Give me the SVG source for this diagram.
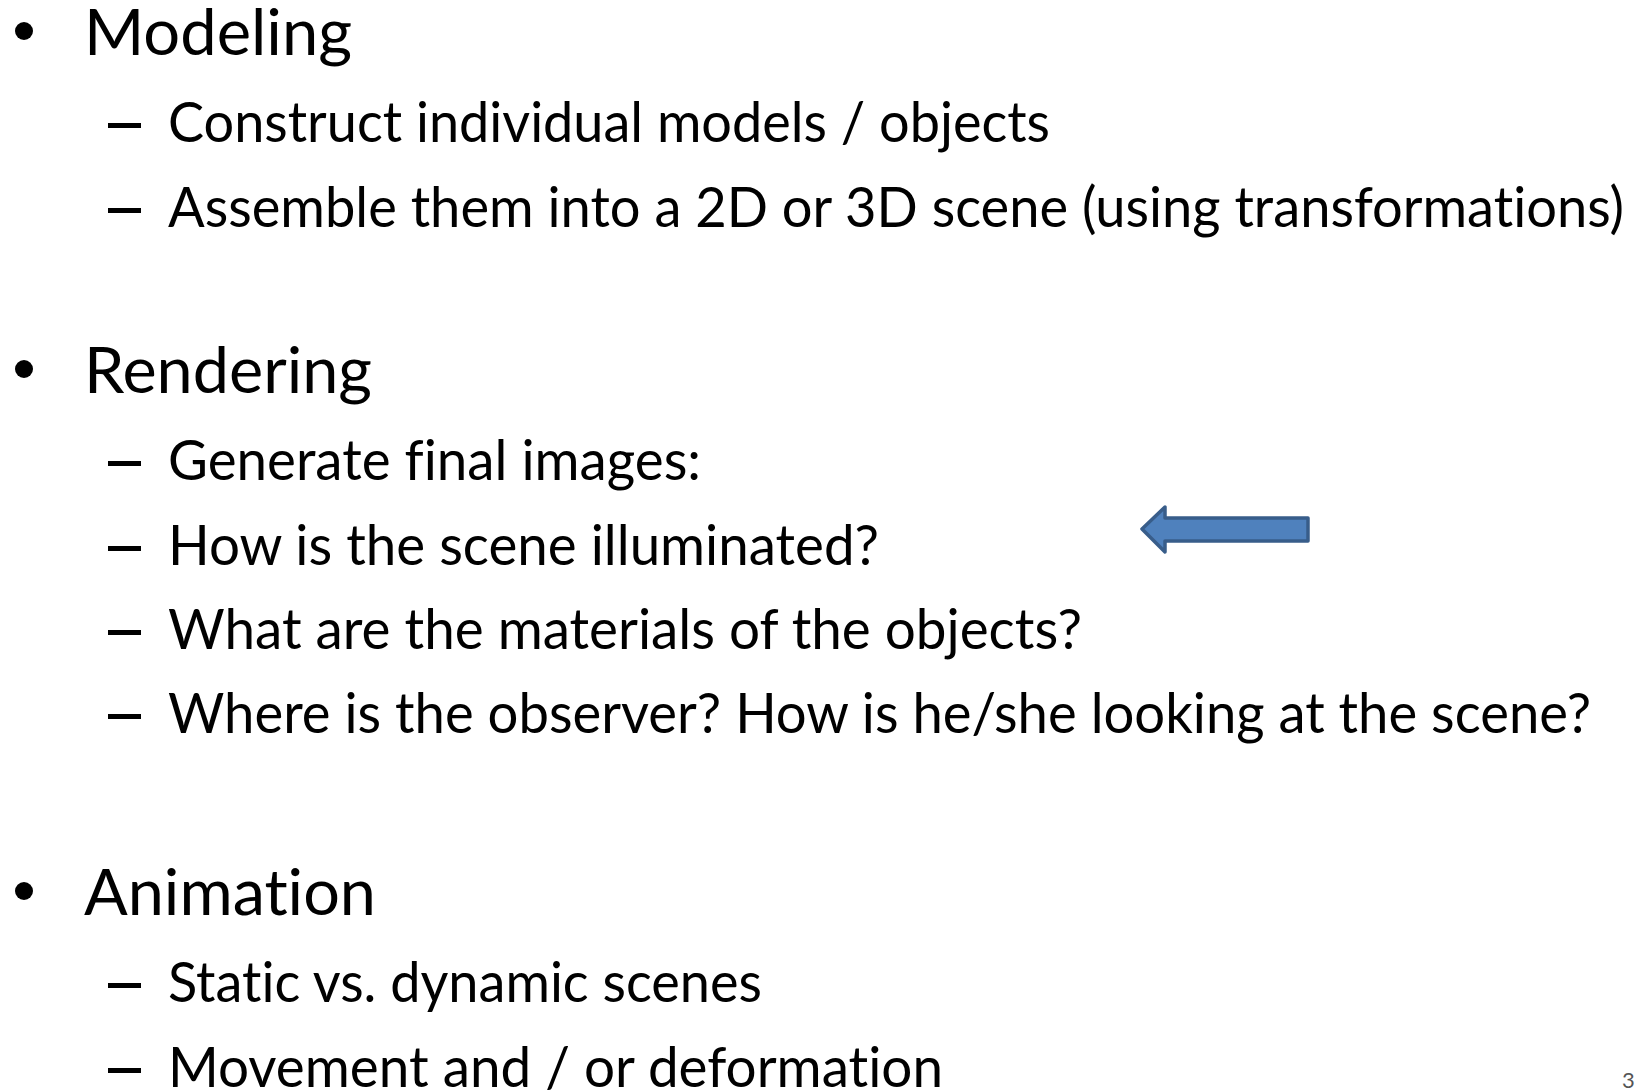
<svg xmlns="http://www.w3.org/2000/svg" width="1642" height="1092" viewBox="0 0 1642 1092">
  <style>
    .h, .s { font-family: Lato, "Open Sans", "Liberation Sans", sans-serif; fill: #000; font-variant-ligatures: none; font-feature-settings: "liga" 0, "clig" 0; }
    .h { font-size: 63px; }
    .s { font-size: 56px; }
    .dot { fill: #000; }
    .dash { fill: #000; }
    .pg { font-family: Lato, "Liberation Sans", sans-serif; font-size: 22px; fill: #555; }
  </style>
  <rect x="0" y="0" width="1642" height="1092" fill="#fff"/>

  <!-- Modeling -->
  <g id="modeling">
    <circle class="dot" cx="24" cy="31" r="9"/>
    <text class="h" x="84" y="55" textLength="268" lengthAdjust="spacingAndGlyphs">Modeling</text>
    <rect class="dash" x="108" y="123" width="33" height="5"/>
    <text class="s" x="168" y="142" textLength="882" lengthAdjust="spacingAndGlyphs">Construct individual models / objects</text>
    <rect class="dash" x="108" y="208" width="33" height="5"/>
    <text class="s" x="168" y="227" textLength="1456" lengthAdjust="spacingAndGlyphs">Assemble them into a 2D or 3D scene (using transformations)</text>
  </g>

  <!-- Rendering -->
  <g id="rendering">
    <circle class="dot" cx="24" cy="369" r="9"/>
    <text class="h" x="84" y="393" textLength="288" lengthAdjust="spacingAndGlyphs">Rendering</text>
    <rect class="dash" x="108" y="461" width="33" height="5"/>
    <text class="s" x="168" y="480" textLength="533" lengthAdjust="spacingAndGlyphs">Generate final images:</text>
    <rect class="dash" x="108" y="546" width="33" height="5"/>
    <text class="s" x="168" y="565" textLength="711" lengthAdjust="spacingAndGlyphs">How is the scene illuminated?</text>
    <rect class="dash" x="108" y="630" width="33" height="5"/>
    <text class="s" x="168" y="649" textLength="914" lengthAdjust="spacingAndGlyphs">What are the materials of the objects?</text>
    <rect class="dash" x="108" y="714" width="33" height="5"/>
    <text class="s" x="168" y="733" textLength="1423" lengthAdjust="spacingAndGlyphs">Where is the observer? How is he/she looking at the scene?</text>
  </g>

  <!-- Animation -->
  <g id="animation">
    <circle class="dot" cx="24" cy="891" r="9"/>
    <text class="h" x="84" y="915" textLength="292" lengthAdjust="spacingAndGlyphs">Animation</text>
    <rect class="dash" x="108" y="983" width="33" height="5"/>
    <text class="s" x="168" y="1002" textLength="594" lengthAdjust="spacingAndGlyphs">Static vs. dynamic scenes</text>
    <rect class="dash" x="108" y="1068" width="33" height="5"/>
    <text class="s" x="168" y="1087" textLength="775" lengthAdjust="spacingAndGlyphs">Movement and / or deformation</text>
  </g>

  <!-- left-pointing block arrow -->
  <g id="arrow">
    <polygon points="1142,529 1165,507 1165,518 1308,518 1308,541 1165,541 1165,552"
             fill="#4f81bd" stroke="#385d8a" stroke-width="3.5" stroke-linejoin="round"/>
  </g>

  <!-- page number -->
  <text class="pg" x="1622" y="1088">3</text>
</svg>
